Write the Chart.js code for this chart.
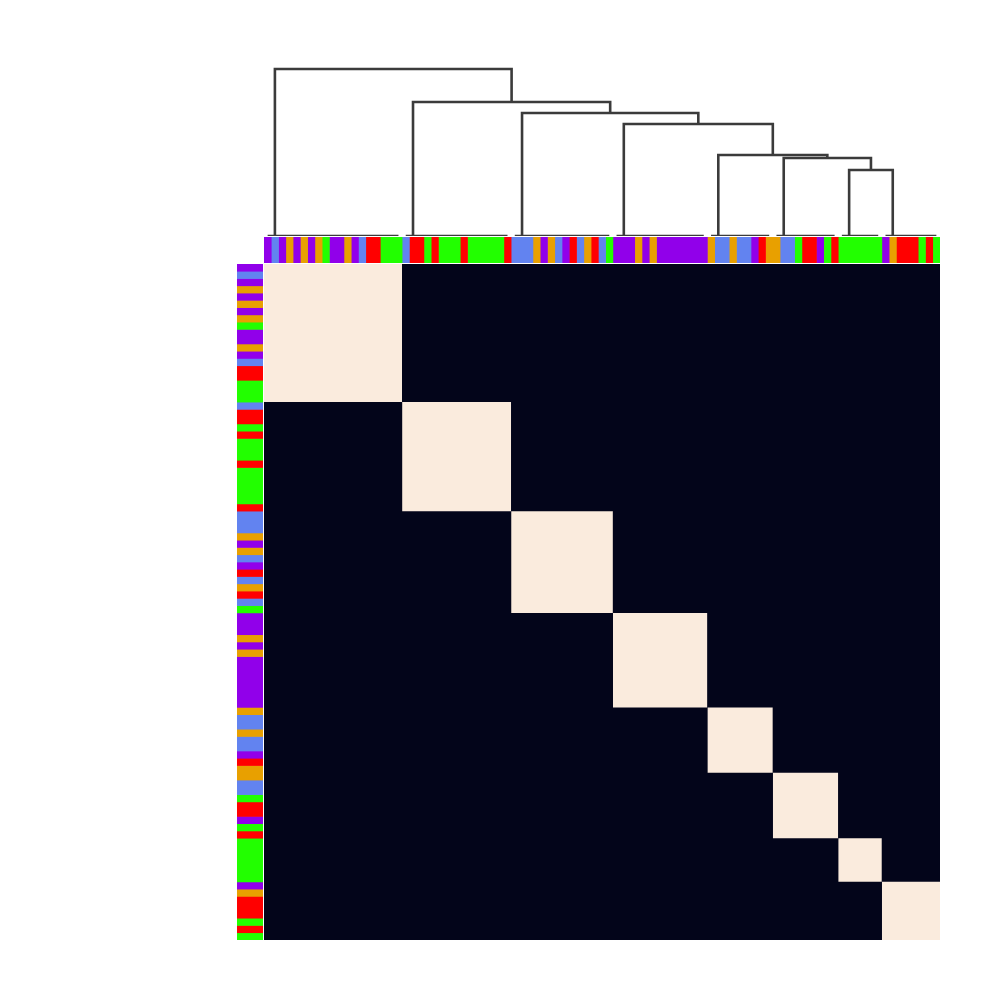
<!DOCTYPE html>
<html><head><meta charset="utf-8">
<script src="https://cdn.jsdelivr.net/npm/chart.js@4.4.0/dist/chart.umd.min.js"></script>
<style>
html,body{margin:0;padding:0;background:#fff;}
#wrap{position:relative;width:1000px;height:1000px;background:#fff;overflow:hidden;}
#wrap canvas{position:absolute;}
</style></head><body>
<div id="wrap">
<canvas id="dendro" width="676" height="196" style="left:264px;top:40px;"></canvas>
<canvas id="topStrip" width="676" height="26" style="left:264px;top:237px;"></canvas>
<canvas id="leftStrip" width="26" height="676" style="left:237px;top:264px;"></canvas>
<canvas id="heat" width="676" height="676" style="left:264px;top:264px;"></canvas>
</div>
<script>
// ---- data ----
// group label of each leaf, in dendrogram (leaf) order
const leafGroups = [
  'P','B','P','O','P','O','P','O','G','P','P','O','P','B','R','R','G','G','G',
  'B','R','R','G','R','G','G','G','R','G','G','G','G','G','R',
  'B','B','B','O','P','O','B','P','R','B','O','R','B','G',
  'P','P','P','O','P','O','P','P','P','P','P','P','P',
  'O','B','B','O','B','B','P','R','O',
  'O','B','B','G','R','R','P','G','R',
  'G','G','G','G','G','G',
  'P','O','R','R','R','G','R','G'
];
// sizes of the clusters along the diagonal (co-membership = 1 inside)
const clusterSizes = [19, 15, 14, 13, 9, 9, 6, 8];
// heatmap values: 0 (different cluster), 1 (same cluster)
const heatValues = [0, 1];
// leaf index where each cluster's dendrogram stem sits
const clusterAnchorLeaf = [1, 20, 35, 49, 62, 71, 80, 86];
// dendrogram merges: node ids 0..7 = clusters, 8.. = previous merges
const mergeLeft   = [6, 5, 4, 3, 2, 1, 0];
const mergeRight  = [7, 8, 9, 10, 11, 12, 13];
const mergeHeight = [66, 78, 81, 112, 123, 134, 167];

// ---- styles ----
const groupColors = {P:'#9100EA', B:'#6283F0', O:'#E8A000', R:'#FF0000', G:'#22FF00'};
const heatColors = ['#03051A', '#FAEBDD'];
const linkColor = '#3b3b3b';

const N = leafGroups.length;
const baseOpts = {
  responsive:false, animation:false, events:[],
  layout:{padding:0},
  plugins:{legend:{display:false}, tooltip:{enabled:false}}
};

// ---- heatmap ----
const heatSets = [];
let start = 0;
clusterSizes.forEach((sz) => {
  const s = start, e = start + sz;
  const idx = heatSets.length;
  heatSets.push({data:[{x:s,y:s},{x:e,y:s}], fill:idx+1, backgroundColor:heatColors[heatValues[1]],
    borderWidth:0, borderColor:'rgba(0,0,0,0)', pointRadius:0, order:0});
  heatSets.push({data:[{x:s,y:e},{x:e,y:e}], fill:false, borderWidth:0, borderColor:'rgba(0,0,0,0)', pointRadius:0, order:0});
  start = e;
});
{
  const idx = heatSets.length;
  heatSets.push({data:[{x:0,y:0},{x:N,y:0}], fill:idx+1, backgroundColor:heatColors[heatValues[0]],
    borderWidth:0, borderColor:'rgba(0,0,0,0)', pointRadius:0, order:10});
  heatSets.push({data:[{x:0,y:N},{x:N,y:N}], fill:false, borderWidth:0, borderColor:'rgba(0,0,0,0)', pointRadius:0, order:10});
}
new Chart(document.getElementById('heat'), {
  type:'line',
  data:{datasets:heatSets},
  options:Object.assign({}, baseOpts, {
    scales:{
      x:{type:'linear', min:0, max:N, display:false},
      y:{type:'linear', min:0, max:N, reverse:true, display:false}
    }
  })
});

// ---- colour strips ----
const runs = [];
leafGroups.forEach((g, i) => {
  if (runs.length && runs[runs.length-1].g === g) runs[runs.length-1].e = i + 1;
  else runs.push({g:g, s:i, e:i+1});
});
function stripSets() {
  return runs.map(r => ({data:[[r.s, r.e]], backgroundColor:groupColors[r.g], borderWidth:0,
    barPercentage:1, categoryPercentage:1, grouped:false}));
}
new Chart(document.getElementById('topStrip'), {
  type:'bar',
  data:{labels:['col'], datasets:stripSets()},
  options:Object.assign({}, baseOpts, {
    indexAxis:'y',
    scales:{x:{type:'linear', min:0, max:N, display:false}, y:{display:false}}
  })
});
new Chart(document.getElementById('leftStrip'), {
  type:'bar',
  data:{labels:['row'], datasets:stripSets()},
  options:Object.assign({}, baseOpts, {
    indexAxis:'x',
    scales:{y:{type:'linear', min:0, max:N, reverse:true, display:false}, x:{display:false}}
  })
});

// ---- dendrogram ----
const nodeX = clusterAnchorLeaf.map(a => a + 0.5);
const nodeH = clusterAnchorLeaf.map(() => 0);
const dendroSets = [];
mergeLeft.forEach((l, j) => {
  const r = mergeRight[j], h = mergeHeight[j];
  dendroSets.push({data:[{x:nodeX[l],y:nodeH[l]},{x:nodeX[l],y:h},{x:nodeX[r],y:h},{x:nodeX[r],y:nodeH[r]}],
    borderColor:linkColor, borderWidth:2.6, pointRadius:0, fill:false, tension:0});
  nodeX.push((nodeX[l] + nodeX[r]) / 2);
  nodeH.push(h);
});
start = 0;
clusterSizes.forEach(sz => {
  dendroSets.push({data:[{x:start+0.5,y:0},{x:start+sz-0.5,y:0}],
    borderColor:linkColor, borderWidth:2.6, pointRadius:0, fill:false});
  start += sz;
});
new Chart(document.getElementById('dendro'), {
  type:'line',
  data:{datasets:dendroSets},
  options:Object.assign({}, baseOpts, {
    scales:{
      x:{type:'linear', min:0, max:N, display:false},
      y:{type:'linear', min:0, max:196, display:false}
    }
  })
});
</script>
</body></html>
